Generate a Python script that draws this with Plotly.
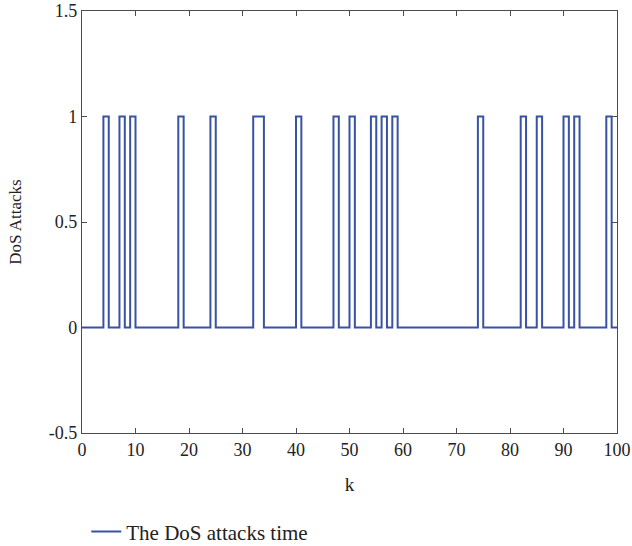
import plotly.graph_objects as go

# DoS attack indicator for k = 0..100 (1 = attack active during [k, k+1))
attack = [
    0, 0, 0, 0, 1, 0, 0, 1, 0, 1,
    0, 0, 0, 0, 0, 0, 0, 0, 1, 0,
    0, 0, 0, 0, 1, 0, 0, 0, 0, 0,
    0, 0, 1, 1, 0, 0, 0, 0, 0, 0,
    1, 0, 0, 0, 0, 0, 0, 1, 0, 0,
    1, 0, 0, 0, 1, 0, 1, 0, 1, 0,
    0, 0, 0, 0, 0, 0, 0, 0, 0, 0,
    0, 0, 0, 0, 1, 0, 0, 0, 0, 0,
    0, 0, 1, 0, 0, 1, 0, 0, 0, 0,
    1, 0, 1, 0, 0, 0, 0, 0, 1, 0,
    0,
]
k = list(range(len(attack)))

x_ticks = [0, 10, 20, 30, 40, 50, 60, 70, 80, 90, 100]
y_ticks = [-0.5, 0, 0.5, 1, 1.5]
y_ticktext = ["-0.5", "0", "0.5", "1", "1.5"]

FONT = "Liberation Serif, DejaVu Serif, serif"
AXIS_COLOR = "#4d4d4d"

fig = go.Figure()
fig.add_trace(go.Scatter(
    x=k, y=attack, mode="lines",
    line=dict(color="#3953a4", width=2, shape="hv"),
    name="The DoS attacks time",
))

fig.update_layout(
    width=632, height=546,
    margin=dict(l=82, r=15, t=11, b=113, autoexpand=False),
    paper_bgcolor="white", plot_bgcolor="white",
    font=dict(family=FONT, size=18, color="#222222"),
    showlegend=True,
    legend=dict(
        x=0.008, y=-0.234, xanchor="left", yanchor="middle",
        orientation="h", bgcolor="rgba(0,0,0,0)",
        font=dict(family=FONT, size=21, color="#222222"),
    ),
    xaxis=dict(
        range=[0, 100], tickvals=x_ticks, ticks="inside", ticklen=5,
        tickcolor=AXIS_COLOR, showline=True, linecolor=AXIS_COLOR, linewidth=1.3,
        mirror="ticks", showgrid=False, zeroline=False, automargin=False,
        title=dict(text="k", standoff=18, font=dict(size=19)),
        tickfont=dict(size=18),
    ),
    yaxis=dict(
        range=[-0.5, 1.5], tickvals=y_ticks, ticktext=y_ticktext,
        ticks="inside", ticklen=5, tickcolor=AXIS_COLOR,
        showline=True, linecolor=AXIS_COLOR, linewidth=1.3,
        mirror="ticks", showgrid=False, zeroline=False, automargin=False,
        title=dict(text="DoS Attacks", standoff=22, font=dict(size=17)),
        tickfont=dict(size=18),
    ),
)

fig.write_html("out.html")
